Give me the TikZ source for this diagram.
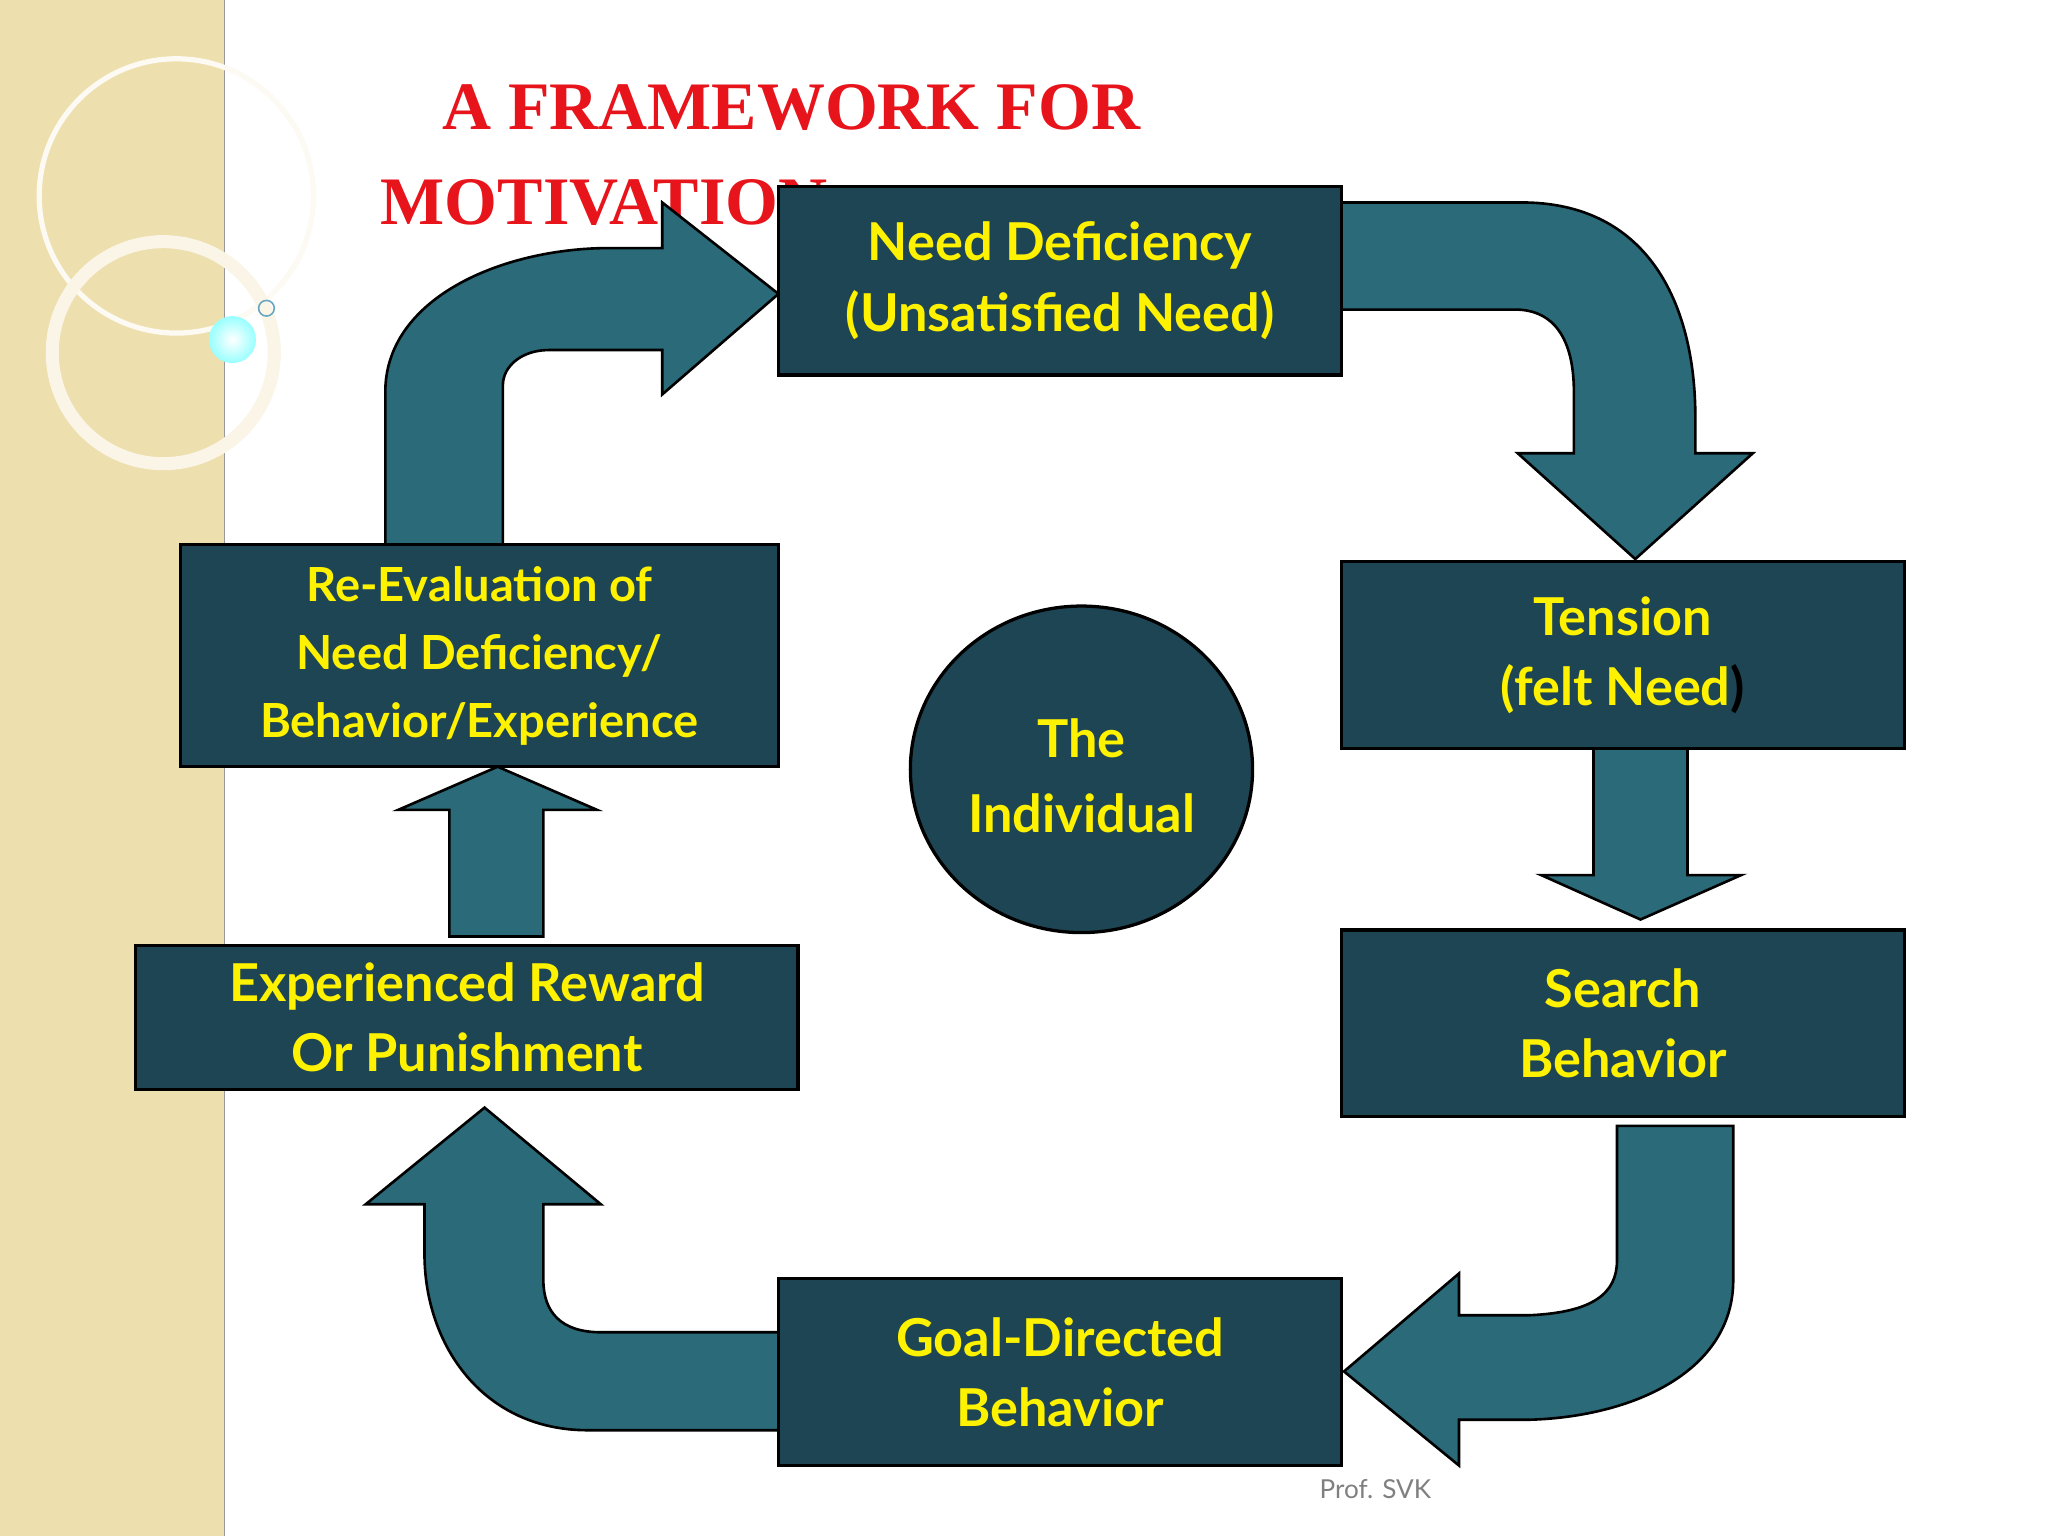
\documentclass[tikz,border=0pt]{standalone}
\usepackage{fontspec}
\usetikzlibrary{shapes.geometric}
\setmainfont{Lato}
\newfontfamily\titlefont{Liberation Serif}
\begin{document}
\begin{tikzpicture}[x=1pt,y=-1pt,
  box/.style={draw=black,line width=2.5pt,fill=boxc,text=yellow,font=\bfseries\fontsize{40}{54}\selectfont,align=center,inner sep=0pt},
  arr/.style={draw=black,line width=2pt,fill=arrc,line join=miter}]
\definecolor{boxc}{HTML}{1E4553}
\definecolor{arrc}{HTML}{2B6A79}
\definecolor{beige}{HTML}{EEDFAE}
\definecolor{titred}{HTML}{E8141B}
\useasboundingbox (0,0) rectangle (1568,1176);
\fill[white] (0,0) rectangle (1568,1176);
% left strip
\fill[beige] (0,0) rectangle (172,1176);
\draw[black!40,line width=1pt] (172,0) -- (172,1176);
\draw[white!85!beige,line width=4pt] (135,150) circle (105);
\draw[white!70!beige,line width=10pt] (125,270) circle (85);
\shade[inner color=white,outer color=cyan!40] (178,260) circle (18);
\draw[cyan!50!gray,line width=1.2pt] (204,236) circle (6);
% title
\node[anchor=west,text=titred,font=\titlefont\bfseries\fontsize{52}{60}\selectfont] (t1) at (335,82) {A FRAMEWORK FOR};
\node[anchor=west,text=titred,font=\titlefont\bfseries\fontsize{52}{60}\selectfont] (t2) at (288,155) {MOTIVATION};
% arrows
\path[arr] (1027,155) -- (1165,155) .. controls (1260,155) and (1298,230) .. (1298,320) -- (1298,347) -- (1342,347) -- (1252,428) -- (1162,347) -- (1205,347) -- (1205,300) .. controls (1205,260) and (1190,237) .. (1160,237) -- (1027,237) -- cycle;
\path[arr] (295,417) -- (295,300) .. controls (295,230) and (380,192) .. (460,190) -- (507,190) -- (507,155) -- (596,225) -- (507,302) -- (507,268) -- (420,268) .. controls (400,268) and (385,280) .. (385,295) -- (385,417) -- cycle;
\path[arr] (1220,573) -- (1220,670) -- (1180,670) -- (1256,704) -- (1333,670) -- (1292,670) -- (1292,573) -- cycle;
\path[arr] (344,717) -- (344,620) -- (305,620) -- (381,587) -- (457,620) -- (416,620) -- (416,717) -- cycle;
\path[arr] (1327,862) -- (1327,980) .. controls (1327,1050) and (1250,1085) .. (1170,1087) -- (1117,1087) -- (1117,1122) -- (1029,1050) -- (1117,975) -- (1117,1007) -- (1170,1007) .. controls (1220,1005) and (1238,990) .. (1238,965) -- (1238,862) -- cycle;
\path[arr] (596,1095) -- (450,1095) .. controls (370,1095) and (325,1030) .. (325,960) -- (325,922) -- (280,922) -- (371,848) -- (460,922) -- (416,922) -- (416,980) .. controls (416,1005) and (430,1020) .. (460,1020) -- (596,1020) -- cycle;
% boxes
\node[box,minimum width=431,minimum height=144] (need) at (811.5,215) {Need Deficiency\\(Unsatisfied Need)};
\node[box,minimum width=431,minimum height=143] (tension) at (1242.5,501.5) {Tension\\(felt Need\textcolor{black}{)}};
\node[box,minimum width=431,minimum height=143] (search) at (1242.5,783.5) {Search\\Behavior};
\node[box,minimum width=431,minimum height=143] (goal) at (811.5,1050.5) {Goal-Directed\\Behavior};
\node[box,minimum width=507,minimum height=110] (exp) at (357.5,779) {Experienced Reward\\Or Punishment};
\node[box,minimum width=458,minimum height=170,font=\bfseries\fontsize{36}{52}\selectfont] (reeval) at (367,502) {Re-Evaluation of\\Need Deficiency/\\Behavior/Experience};
\node[draw=black,line width=2.5pt,fill=boxc,ellipse,minimum width=262,minimum height=250,inner sep=0pt] (ind) at (828,589) {};
\node[text=yellow,font=\bfseries\fontsize{40}{58}\selectfont,align=center] (indt) at (828,594) {The\\Individual};
\node[text=gray,font=\fontsize{20}{24}\selectfont] (prof) at (1053,1140) {Prof. SVK};
\end{tikzpicture}
\end{document}
